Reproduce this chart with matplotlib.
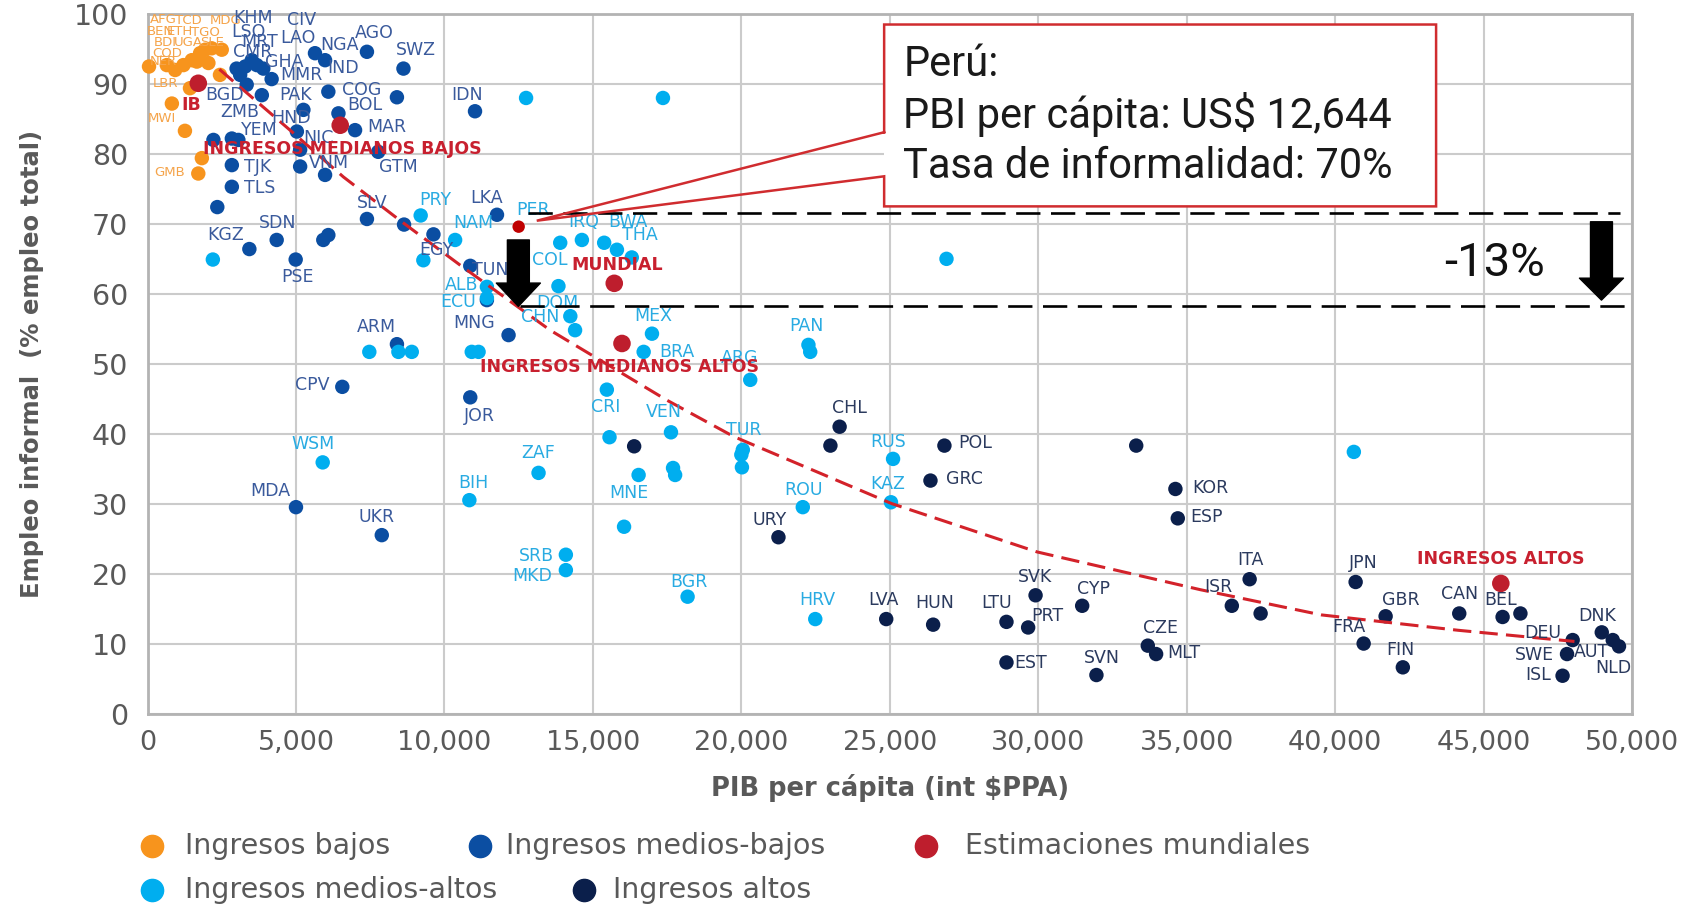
import matplotlib
matplotlib.use("Agg")
import matplotlib.pyplot as plt
from matplotlib.patches import FancyArrowPatch, ArrowStyle, Rectangle
from matplotlib.lines import Line2D
from matplotlib.ticker import FuncFormatter, MultipleLocator

# ---------------- DATA ----------------
# GDP per capita (int $PPP) and informal employment (% of total employment)
low_x = [50, 650, 930, 1210, 1490, 1770, 1940, 2160, 2500, 1660, 2050, 2440, 1430, 820, 1260, 1830, 1710]
low_y = [92.5, 92.7, 92.0, 92.7, 93.4, 94.4, 94.9, 95.1, 94.9, 93.2, 93.0, 91.3, 89.4, 87.2, 83.3, 79.4, 77.2]
low_lab = ["BEN", "NER", "COD", "BDI", "UGA", "SLE", "TGO", "TCD", "MDG", "ETH", "AFG", "",
           "LBR", "MWI", "", "", "GMB"]

lm_x = [3000, 3290, 3510, 3680, 3900, 3120, 3340, 4180, 5640, 5980, 7390, 8620, 3850, 6090, 8400,
        5250, 6430, 6990, 11030, 5030, 2220, 2840, 3060, 5140, 7770, 2840, 5140, 5980, 2840, 2350,
        7390, 8640, 9630, 11770, 4350, 3430, 5920, 6090, 4990, 10870, 11430, 12160, 8400, 6560,
        10870, 5000, 7890]
lm_y = [92.2, 92.5, 93.4, 92.7, 92.2, 91.3, 89.9, 90.7, 94.4, 93.4, 94.6, 92.2, 88.4, 88.9, 88.1,
        86.3, 85.8, 83.4, 86.1, 83.2, 82.0, 82.2, 82.0, 80.6, 80.3, 78.4, 78.2, 77.0, 75.3, 72.4,
        70.7, 69.9, 68.5, 71.3, 67.7, 66.4, 67.7, 68.4, 64.9, 64.0, 59.1, 54.1, 52.8, 46.7,
        45.2, 29.5, 25.5]
lm_lab = ["CMR", "MRT", "KHM", "LSO", "GHA", "CIV", "LAO", "MMR", "NGA", "IND", "AGO", "SWZ", "BGD",
          "COG", "", "PAK", "BOL", "MAR", "IDN", "HND", "", "YEM", "ZMB", "NIC", "GTM", "TJK", "VNM",
          "", "TLS", "", "SLV", "", "EGY", "LKA", "SDN", "KGZ", "", "", "PSE", "TUN", "", "MNG",
          "ARM", "CPV", "JOR", "MDA", "UKR"]

um_x = [12750, 17360, 2200, 9200, 10360, 9290, 11430, 11430, 7470, 8450, 8900, 10920, 11150, 13900,
        14630, 15380, 15810, 16310, 13840, 14240, 14400, 16990, 16710, 20300, 15470, 22260, 22320,
        15560, 17630, 17700, 17770, 16540, 13170, 16050, 14090, 14090, 20050, 20000, 20020, 22070,
        25110, 25040, 18190, 22490, 5900, 10840, 26910, 40630]
um_y = [88.0, 88.0, 64.9, 71.2, 67.7, 64.8, 61.0, 59.4, 51.7, 51.7, 51.7, 51.7, 51.7, 67.3, 67.7,
        67.3, 66.3, 65.2, 61.1, 56.8, 54.8, 54.3, 51.7, 47.7, 46.3, 52.7, 51.7, 39.5, 40.2, 35.1,
        34.1, 34.1, 34.4, 26.7, 22.7, 20.5, 37.7, 37.0, 35.2, 29.5, 36.4, 30.2, 16.7, 13.5, 35.9,
        30.5, 65.0, 37.4]
um_lab = ["", "", "", "PRY", "NAM", "", "ALB", "ECU", "", "", "", "", "", "", "IRQ", "BWA", "THA",
          "", "COL", "DOM", "CHN", "MEX", "BRA", "ARG", "CRI", "PAN", "", "", "VEN", "", "", "MNE",
          "ZAF", "", "SRB", "MKD", "TUR", "", "", "ROU", "RUS", "KAZ", "BGR", "HRV", "WSM", "BIH",
          "", ""]

hi_x = [23310, 23000, 16390, 21250, 26840, 26370, 33300, 34620, 34700, 24880, 26460, 28930, 29660,
        29910, 31480, 28930, 31960, 33690, 33970, 36520, 37490, 37120, 40690, 40960, 41700, 42280,
        44180, 45640, 46240, 48000, 47810, 47660, 48980, 49350, 49560]
hi_y = [41.0, 38.3, 38.2, 25.2, 38.3, 33.3, 38.3, 32.1, 27.9, 13.5, 12.7, 13.1, 12.3, 16.9, 15.4,
        7.3, 5.5, 9.7, 8.5, 15.4, 14.3, 19.2, 18.8, 10.0, 13.9, 6.6, 14.3, 13.8, 14.3, 10.5, 8.5,
        5.4, 11.6, 10.5, 9.6]
hi_lab = ["CHL", "", "", "URY", "POL", "GRC", "", "KOR", "ESP", "LVA", "HUN", "LTU", "PRT", "SVK",
          "CYP", "EST", "SVN", "CZE", "MLT", "ISR", "", "ITA", "JPN", "FRA", "GBR", "FIN", "CAN",
          "BEL", "", "DEU", "SWE", "ISL", "DNK", "AUT", "NLD"]

est_lab = ["IB", "INGRESOS MEDIANOS BAJOS", "MUNDIAL", "INGRESOS MEDIANOS ALTOS", "INGRESOS ALTOS"]
est_x = [1710, 6490, 15720, 15980, 45580]
est_y = [90.1, 84.1, 61.5, 52.9, 18.6]

peru_x = 12500
peru_y = 69.6

trend_x = [2420, 4800, 6600, 8500, 10530, 13560, 17490, 19740, 25070, 29960, 35460, 39530, 44140, 48060]
trend_y = [92.1, 83.4, 76.7, 70.5, 64.1, 54.8, 44.8, 39.6, 30.0, 23.1, 17.7, 14.1, 11.9, 10.3]

ref_upper = 71.5   # dashed reference lines
ref_lower = 58.2

box_lines = ["Perú:", "PBI per cápita: US$ 12,644", "Tasa de informalidad: 70%"]
gap_text = "-13%"

legend_items = ["Ingresos bajos", "Ingresos medios-bajos", "Estimaciones mundiales",
                "Ingresos medios-altos", "Ingresos altos"]

# ---------------- STYLE ----------------
C_LOW, C_LM, C_EST, C_UM, C_HI = "#F7941D", "#0B4EA2", "#BE1E2D", "#00AEEF", "#0B1F4B"
L_LOW, L_LM, L_UM, L_HI, L_EST = "#F5A44A", "#3A5A9C", "#29ABE2", "#2B3A5E", "#C8202F"
GRAY = "#595959"

# label offsets (pixels) from their point
OFFS = {
    # low income
    "BEN": (11, 34.5), "NER": (-3.8, 3.1), "COD": (-7.6, 16.9), "BDI": (-18.4, 22.1),
    "UGA": (-3.7, 17.2), "SLE": (12, 10.2), "TGO": (-0.1, 17.7), "TCD": (-23.6, 28.3),
    "MDG": (4.3, 29.7), "ETH": (-16.8, 29.6), "AFG": (-45.3, 43), "LBR": (-24.2, 4.9),
    "MWI": (-10.1, -14.8), "GMB": (-28.3, 0.8),
    # lower-middle
    "CMR": (16, 16.8), "MRT": (14.4, 24.8), "KHM": (1, 41.9), "LSO": (-8.4, 33.4),
    "GHA": (20.7, 6.8), "CIV": (61.6, 54.9), "LAO": (50.9, 46.3), "MMR": (30.1, 4),
    "NGA": (24.3, 8.2), "IND": (18.3, -8.1), "AGO": (7.2, 18.5), "SWZ": (12.5, 18.5),
    "BGD": (-37.6, 0.1), "COG": (33.4, 1.6), "PAK": (-8.3, 14.8), "BOL": (25.9, 8.3),
    "MAR": (31.7, 3.4), "IDN": (-8.2, 16.2), "HND": (-6, 13.2), "YEM": (27.4, 8.5),
    "ZMB": (1.7, 28.2), "NIC": (18.2, 11.4), "GTM": (20.2, -14.9), "TJK": (25.7, -1.6),
    "VNM": (29.1, 3.2), "TLS": (27.4, -1.5), "SLV": (4.9, 16.3), "EGY": (3.4, -15.7),
    "LKA": (-10.1, 16.4), "SDN": (0.9, 16.6), "KGZ": (-23.5, 14), "PSE": (1.9, -17.8),
    "TUN": (19.9, -4.2), "MNG": (-34.4, 11.8), "ARM": (-20.1, 17.5), "CPV": (-30.5, 1.8),
    "JOR": (9.6, -18.7), "MDA": (-25.9, 16.4), "UKR": (-5, 18.4),
    # upper-middle
    "PRY": (14.4, 15.4), "NAM": (18.3, 16.7), "ALB": (-25, 1.8), "ECU": (-29.2, -3.7),
    "IRQ": (1.6, 18.3), "BWA": (23.8, 21), "THA": (22.5, 14.7), "COL": (-8.3, 26.1),
    "DOM": (-13.4, 12.9), "CHN": (-34.9, 13.5), "MEX": (1.5, 17.7), "BRA": (33.2, 0.2),
    "ARG": (-10.8, 21.5), "CRI": (-0.9, -17.1), "PAN": (-1.7, 19.1), "VEN": (-7.5, 20.6),
    "MNE": (-10.1, -18.3), "ZAF": (-0.9, 20.2), "SRB": (-29, -1.3), "MKD": (-34, -5.9),
    "TUR": (0.7, 19.8), "ROU": (0.8, 17.1), "RUS": (-5.3, 16.6), "KAZ": (-3.2, 18),
    "BGR": (0.9, 15), "HRV": (2.5, 19.1), "WSM": (-9.3, 18.4), "BIH": (4.1, 17.5),
    # high
    "CHL": (9.8, 18.4), "URY": (-9, 17.2), "POL": (30.9, 2.3), "GRC": (34, 1.6),
    "KOR": (35.3, 0.7), "ESP": (28.6, 1), "LVA": (-2.7, 19.1), "HUN": (1.2, 21.4),
    "LTU": (-9.5, 18.6), "PRT": (19, 11.5), "SVK": (-0.2, 18), "CYP": (11.2, 16.5),
    "EST": (24.6, -0.3), "SVN": (5.2, 16.7), "CZE": (12.6, 17.3), "MLT": (27.6, 0.7),
    "ISR": (-13.9, 18.5), "ITA": (1.1, 19.2), "JPN": (7.6, 18.7), "FRA": (-14.9, 16.8),
    "GBR": (14.7, 16.3), "FIN": (-2, 17.3), "CAN": (-0.1, 19.5), "BEL": (-2, 17),
    "DEU": (-29.8, 6.8), "SWE": (-32.4, -1.3), "ISL": (-24.1, 0.7), "DNK": (-4.4, 16.4),
    "AUT": (-21.5, -11.6), "NLD": (-5.8, -21.9),
    # estimates
    "IB": (-6.6, -21.7), "INGRESOS MEDIANOS BAJOS": (1.9, -23.8), "MUNDIAL": (2.6, 18.3),
    "INGRESOS MEDIANOS ALTOS": (-2.3, -23.5), "INGRESOS ALTOS": (-0.3, 24.4),
}

plt.rcParams['font.family'] = ['DejaVu Sans']
NARROW = ['Roboto', 'DejaVu Sans']

fig = plt.figure(figsize=(16.86, 9.05), dpi=100)
ax = fig.add_axes([0.0875, 0.2116, 0.8805, 0.7729])
ax.set_xlim(0, 50000)
ax.set_ylim(0, 100)
ax.xaxis.set_major_locator(MultipleLocator(5000))
ax.yaxis.set_major_locator(MultipleLocator(10))
ax.xaxis.set_major_formatter(FuncFormatter(lambda v, p: f"{int(v):,}"))
ax.grid(True, color="#CBCBCB", lw=1.5)
ax.set_axisbelow(True)
for s in ax.spines.values():
    s.set_color("#B3B3B3")
    s.set_linewidth(2.0)
ax.tick_params(length=0, labelcolor=GRAY)
ax.tick_params(axis='y', labelsize=20.5, pad=14)
ax.tick_params(axis='x', labelsize=19.5, pad=12)

ax.set_xlabel("PIB per cápita (int $PPA)", fontsize=18.5, fontweight='bold', color=GRAY, va='center')
ax.xaxis.set_label_coords(0.5, -0.1065)
ax.set_ylabel("Empleo informal  (% empleo total)", fontsize=17.5, fontweight='bold', color=GRAY,
              va='center')
ax.yaxis.set_label_coords(-0.0778, 0.5)


def draw_group(xs, ys, labs, color, lcolor, fs, size=108, z=3, weight='normal'):
    ax.scatter(xs, ys, s=size, color=color, edgecolors='none', zorder=z, clip_on=False)
    for x, y, lab in zip(xs, ys, labs):
        if lab:
            dx, dy = OFFS[lab]
            ax.annotate(lab, (x, y), xytext=(dx, dy), textcoords='offset pixels',
                        ha='center', va='center', fontsize=fs, color=lcolor,
                        fontweight=weight, zorder=6)


draw_group(low_x, low_y, low_lab, C_LOW, L_LOW, 9.5)
draw_group(lm_x, lm_y, lm_lab, C_LM, L_LM, 12.5)
draw_group(um_x, um_y, um_lab, C_UM, L_UM, 12.5)
draw_group(hi_x, hi_y, hi_lab, C_HI, L_HI, 12.5)

# trend line
ax.plot(trend_x, trend_y, color="#D3222A", lw=2.2, ls=(0, (6, 2.7)), zorder=4.5)

draw_group(est_x, est_y, est_lab, C_EST, L_EST, 12.5, size=160, z=5, weight='bold')

# Peru
ax.scatter([peru_x], [peru_y], s=80, color="#C00000", edgecolors='none', zorder=5)
ax.annotate("PER", (peru_x, peru_y), xytext=(14.8, 16.6), textcoords='offset pixels',
            ha='center', va='center', fontsize=12.5, color=L_UM, zorder=6)

# reference dashed lines
ax.plot([12830, 49600], [ref_upper, ref_upper], color='black', lw=1.9, ls=(0, (9.2, 4.0)), zorder=7)
ax.plot([12550, 50000], [ref_lower, ref_lower], color='black', lw=1.9, ls=(0, (9.2, 4.0)), zorder=7)

# arrows
for (ax_x, y0, y1, hl) in [(12490, 67.7, ref_lower, 16.8), (48970, 70.3, 59.1, 15.8)]:
    arr = FancyArrowPatch((ax_x, y0), (ax_x, y1),
                          arrowstyle=ArrowStyle("simple", head_length=hl, head_width=31.7,
                                                tail_width=15.8),
                          mutation_scale=1, shrinkA=0, shrinkB=0, color='black', zorder=8)
    ax.add_patch(arr)

ax.text(45380, 62.6, gap_text, ha='center', va='baseline', fontsize=34, family=NARROW,
        color='#111111', zorder=8)

# callout box
bx0, bx1, by0, by1 = 24810, 43400, 72.5, 98.5
ax.add_patch(Rectangle((bx0, by0), bx1 - bx0, by1 - by0, facecolor='white', edgecolor='none',
                       zorder=7))
tip = (13110, 70.45)
ax.plot([bx0, bx0, bx1, bx1, bx0, bx0, tip[0], bx0],
        [83.1, by1, by1, by0, by0, 76.8, tip[1], 83.1],
        color="#D02C2F", lw=1.8, zorder=8, solid_joinstyle='miter')
for txt, yb in zip(box_lines, [91.1, 83.7, 76.6]):
    ax.text(25450, yb, txt, ha='left', va='baseline', fontsize=30, family=NARROW,
            color='#1a1a1a', zorder=9)

# legend (manual, flowing layout)
leg_colors = [C_LOW, C_LM, C_EST, C_UM, C_HI]
leg_pos = [(152, 846), (480, 846), (926, 846), (152, 890), (584, 890)]
leg_txt_dx = [33, 26, 39, 33, 29]
W, H = 1686, 905
for lab, col, (px, py), tdx in zip(legend_items, leg_colors, leg_pos, leg_txt_dx):
    fig.add_artist(Line2D([px / W], [1 - py / H], marker='o', markersize=16, color=col,
                          linestyle='none', transform=fig.transFigure))
    fig.text((px + tdx) / W, 1 - py / H, lab, ha='left', va='center', fontsize=20.5, color=GRAY)

fig.savefig("out.png", dpi=100)
